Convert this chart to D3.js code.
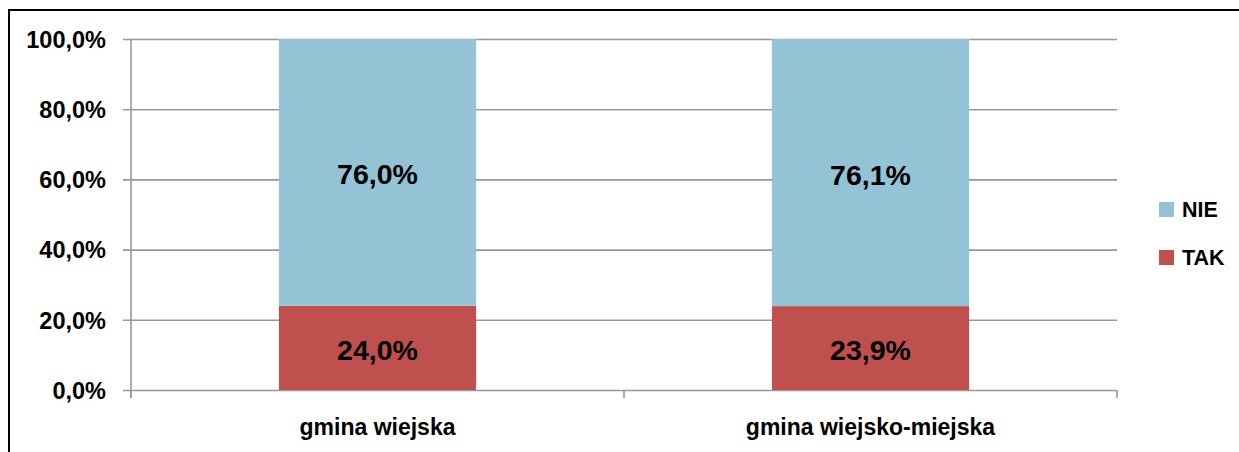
<!DOCTYPE html>
<html><head><meta charset="utf-8">
<script src="https://cdn.jsdelivr.net/npm/d3@7"></script>
<style>body{margin:0;background:#fff;} svg{display:block;} svg text{font-family:"Liberation Sans",Arial,sans-serif;font-weight:700;}</style>
</head><body>
<svg id="c" width="1239" height="452"></svg>
<script>
const categories = ["gmina wiejska", "gmina wiejsko-miejska"];
const seriesNames = ["TAK", "NIE"];
const takValues = [24.0, 23.9];
const nieValues = [76.0, 76.1];
const yTicks = [0, 20, 40, 60, 80, 100];
const colors = {TAK: "#C0504D", NIE: "#93C3D5"};

(function () {
const svg = d3.select("#c");
const grid = "#989898";
svg.append("rect").attr("x", 9).attr("y", 10).attr("width", 1300).attr("height", 500)
  .attr("fill", "none").attr("stroke", "#000").attr("stroke-width", 2);

const pL = 131, pR = 1117, pT = 39, pB = 390;
const x = d3.scaleBand().domain(categories).range([pL, pR]).paddingInner(0.6).paddingOuter(0.3);
const xb = d3.scaleBand().domain(categories).range([pL, pR]);
const y = d3.scaleLinear().domain([0, 100]).range([pB, pT]);

const fmt = v => v.toFixed(1).replace(".", ",") + "%";

const yAxis = d3.axisLeft(y).tickValues(yTicks).tickSize(-(pR - pL)).tickSizeOuter(0).tickFormat(fmt).tickPadding(25);
const gy = svg.append("g").attr("transform", `translate(${pL},0)`).call(yAxis);
gy.select(".domain").remove();
gy.selectAll(".tick line").attr("stroke", grid).attr("stroke-width", 1.6).attr("x1", -8);
gy.selectAll(".tick text").attr("font-size", 23.5).attr("fill", "#000").attr("font-weight", "bold")
  .attr("font-family", "Liberation Sans, Arial, sans-serif").attr("dy", "0.35em");
svg.append("line").attr("x1", pL).attr("x2", pL).attr("y1", pT).attr("y2", pB + 8)
  .attr("stroke", grid).attr("stroke-width", 1.6);

const xTickPos = [pL, ...categories.slice(1).map(c => xb(c)), pR];
svg.selectAll(".xt").data(xTickPos).enter().append("line")
  .attr("x1", d => d).attr("x2", d => d).attr("y1", pB).attr("y2", pB + 8)
  .attr("stroke", grid).attr("stroke-width", 1.6);

const rows = categories.map((c, i) => ({cat: c, TAK: takValues[i], NIE: nieValues[i]}));
const stack = d3.stack().keys(seriesNames)(rows);
stack.forEach(s => {
  const g = svg.append("g");
  g.selectAll("rect").data(s).enter().append("rect")
    .attr("x", d => x(d.data.cat)).attr("width", x.bandwidth())
    .attr("y", d => y(d[1])).attr("height", d => y(d[0]) - y(d[1]))
    .attr("fill", colors[s.key]);
  g.selectAll("text").data(s).enter().append("text")
    .attr("x", d => x(d.data.cat) + x.bandwidth() / 2)
    .attr("y", d => (y(d[0]) + y(d[1])) / 2 + 2)
    .attr("dy", "0.35em").attr("text-anchor", "middle").attr("font-size", 28.5).attr("fill", "#000")
    .text(d => fmt(d.data[s.key]));
});

svg.selectAll(".cl").data(categories).enter().append("text")
  .attr("x", d => xb(d) + xb.bandwidth() / 2).attr("y", 435)
  .attr("text-anchor", "middle").attr("font-size", 23).attr("fill", "#000").text(d => d);

const legend = ["NIE", "TAK"];
const lg = svg.selectAll(".lg").data(legend).enter().append("g")
  .attr("transform", (d, i) => `translate(1159,${202 + i * 48})`);
lg.append("rect").attr("width", 15).attr("height", 15).attr("fill", d => colors[d]);
lg.append("text").attr("x", 23).attr("y", 7.5).attr("dy", "0.35em").attr("font-size", 21.5).attr("fill", "#000").text(d => d);
})();
</script>
</body></html>
